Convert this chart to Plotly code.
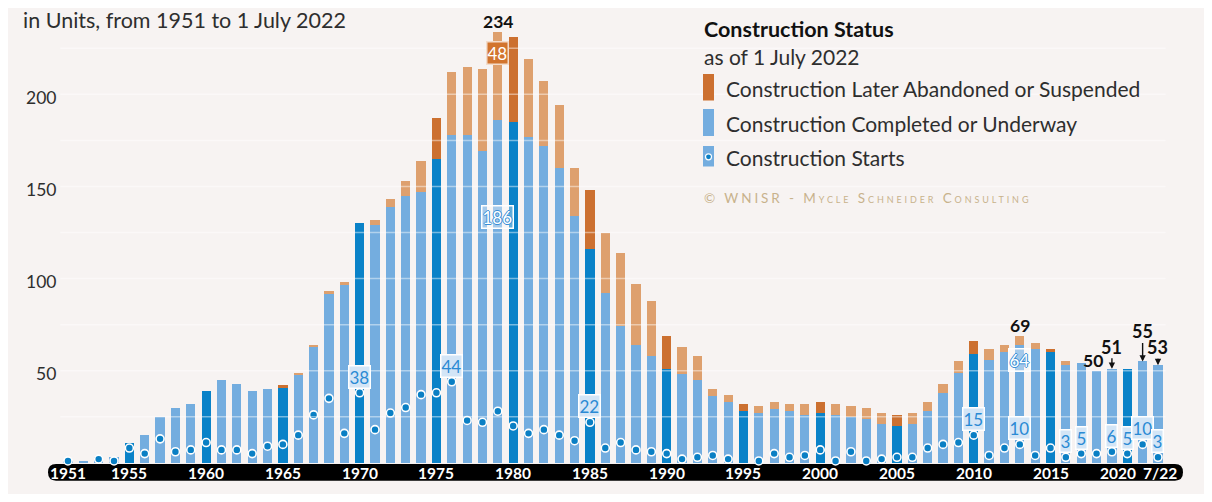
import plotly.graph_objects as go

# construction per year, as of 1 July 2022 (units)
years = list(range(1951, 2023))
completed = [1, 1, 3, 3, 11, 15, 25, 30, 32, 39,
             45, 43, 39, 40, 41, 48, 63, 92, 97, 130,
             129, 139, 145, 147, 165, 178, 178, 169, 186, 185,
             177, 172, 160, 134, 116, 92, 74, 64, 58, 51,
             48, 45, 36, 33, 28, 27, 29, 28, 26, 27,
             26, 25, 24, 21, 20, 21, 28, 38, 49, 59,
             56, 60, 64, 62, 60, 53, 54, 50, 51, 51,
             55, 53]
abandoned = [0, 0, 0, 0, 0, 0, 0, 0, 0, 0,
             0, 0, 0, 0, 1, 1, 1, 1, 1, 0,
             3, 4, 8, 17, 22, 34, 37, 45, 48, 46,
             42, 35, 34, 26, 32, 33, 40, 33, 30, 18,
             15, 13, 4, 4, 4, 4, 4, 4, 6, 6,
             6, 6, 6, 6, 6, 6, 5, 5, 6, 7,
             6, 4, 5, 3, 2, 2, 0, 0, 0, 0,
             0, 0]
starts = [1, None, 2, 1, 8, 5, 13, 6, 7, 11,
          7, 7, 5, 9, 10, 15, 26, 35, 16, 38,
          18, 27, 30, 37, 38, 44, 23, 22, 28, 20,
          16, 18, 15, 12, 22, 8, 11, 7, 6, 5,
          2, 3, 4, 2, None, 1, 5, 3, 4, 7,
          1, 6, 1, 2, 3, 3, 8, 10, 11, 15,
          4, 8, 10, 4, 8, 3, 5, 5, 6, 5,
          10, 3]

tick_years = [1951, 1955, 1960, 1965, 1970, 1975, 1980, 1985, 1990, 1995,
              2000, 2005, 2010, 2015, 2020, 2022]
tick_text = ["1951", "1955", "1960", "1965", "1970", "1975", "1980", "1985", "1990", "1995",
             "2000", "2005", "2010", "2015", "2020", "7/22"]
y_ticks = [50, 100, 150, 200]
pill_years = [1970, 1976, 1985, 2010, 2013, 2016, 2017, 2019, 2020, 2021, 2022]

LIGHT_BLUE = "#74addf"
DARK_BLUE = "#0a82c8"
LIGHT_ORANGE = "#dea06e"
DARK_ORANGE = "#cc7030"
DOT = "#0a7fc4"
BG = "#f7f3f2"
TXT = "#2e2e2e"
FONT = "Lato"

# page body has an 8px margin, so the figure sits at (8, 8) in the window
OFF = 8
W, H = 1196, 486
ML, MR, MT, MB = 40, 21, 2, 2
X0, X1 = 1949.70, 2023.63
Y0, Y1 = -15.85, 245.8


def px(x):  # window pixel -> paper x
    return (x - OFF - ML) / (W - ML - MR)


def py(y):  # window pixel -> paper y
    return (H - MB - (y - OFF)) / (H - MT - MB)


blue_cols = [DARK_BLUE if y % 5 == 0 else LIGHT_BLUE for y in years]
orange_cols = [DARK_ORANGE if y % 5 == 0 else LIGHT_ORANGE for y in years]

fig = go.Figure()
fig.add_trace(go.Bar(x=years, y=completed, marker=dict(color=blue_cols, line_width=0),
                     width=0.6, name="Construction Completed or Underway"))
fig.add_trace(go.Bar(x=years, y=abandoned, marker=dict(color=orange_cols, line_width=0),
                     width=0.6, name="Construction Later Abandoned or Suspended"))
fig.add_trace(go.Scatter(x=years, y=starts, mode="markers", name="Construction Starts",
                         marker=dict(size=8, color=DOT, line=dict(color="white", width=1.6)),
                         cliponaxis=False))

shapes = []
# black rounded axis band
rx, ry = 8 / 15.35, 8 / 1.842
bx0, bx1 = X0, X1
by0, by1 = -9.7, -0.65
path = (f"M {bx0+rx},{by1} L {bx1-rx},{by1} Q {bx1},{by1} {bx1},{(by0+by1)/2} "
        f"Q {bx1},{by0} {bx1-rx},{by0} L {bx0+rx},{by0} Q {bx0},{by0} {bx0},{(by0+by1)/2} "
        f"Q {bx0},{by1} {bx0+rx},{by1} Z")
shapes.append(dict(type="path", path=path, xref="x", yref="y", fillcolor="black",
                   line_width=0, layer="below"))
# gridlines over the bars
for g in range(25, 226, 25):
    shapes.append(dict(type="line", xref="x", yref="y", x0=1950.5, x1=2022.5, y0=g, y1=g,
                       line=dict(color="rgba(255,255,255,0.45)", width=1.5), layer="above"))
# legend swatches
shapes.append(dict(type="rect", xref="paper", yref="paper", x0=px(703), x1=px(714),
                   y0=py(100.5), y1=py(74), fillcolor=DARK_ORANGE, line_width=0, layer="above"))
shapes.append(dict(type="rect", xref="paper", yref="paper", x0=px(703), x1=px(714),
                   y0=py(136), y1=py(109), fillcolor=LIGHT_BLUE, line_width=0, layer="above"))
shapes.append(dict(type="rect", xref="paper", yref="paper", x0=px(703), x1=px(714),
                   y0=py(166.5), y1=py(146), fillcolor=LIGHT_BLUE, line_width=0, layer="above"))
shapes.append(dict(type="circle", xref="paper", yref="paper", x0=px(705.5), x1=px(711.5),
                   y0=py(159.8), y1=py(153.8), fillcolor=DOT,
                   line=dict(color="white", width=1.2), layer="above"))

ann = []
# title
ann.append(dict(text="in Units, from 1951 to 1 July 2022", xref="paper", yref="paper",
                x=px(21), y=py(20), xanchor="left", yanchor="middle", showarrow=False,
                font=dict(family=FONT, size=21.5, color=TXT)))
# y tick labels
for v in y_ticks:
    ann.append(dict(text=str(v), xref="paper", yref="y", x=px(58), y=v, xanchor="right",
                    yanchor="middle", yshift=-3, showarrow=False,
                    font=dict(family=FONT, size=17.5, color=TXT)))
# x tick labels on the band
tick_shift = {"2020": -9, "7/22": 2}
for yr, t in zip(tick_years, tick_text):
    ann.append(dict(text=f"<b>{t}</b>", xref="x", yref="y", x=yr, y=-5.4, xanchor="center",
                    yanchor="middle", showarrow=False, xshift=tick_shift.get(t, 0),
                    font=dict(family=FONT, size=15.5, color="white")))
# legend text
ann.append(dict(text="<b>Construction Status</b>", xref="paper", yref="paper", x=px(702),
                y=py(29), xanchor="left", yanchor="middle", showarrow=False,
                font=dict(family=FONT, size=21.5, color="#111")))
ann.append(dict(text="as of 1 July 2022", xref="paper", yref="paper", x=px(702),
                y=py(56), xanchor="left", yanchor="middle", showarrow=False,
                font=dict(family=FONT, size=21, color=TXT)))
for label, yy in [("Construction Later Abandoned or Suspended", 89),
                  ("Construction Completed or Underway", 123),
                  ("Construction Starts", 157)]:
    ann.append(dict(text=label, xref="paper", yref="paper", x=px(724), y=py(yy),
                    xanchor="left", yanchor="middle", showarrow=False,
                    font=dict(family=FONT, size=21, color=TXT)))
ann.append(dict(text="<span style='letter-spacing:2.9px'>© WNISR - Mycle Schneider Consulting</span>",
                xref="paper", yref="paper",
                x=px(702), y=py(198), xanchor="left", yanchor="middle", showarrow=False,
                font=dict(family=FONT, size=13.5, color="#c8b28c", variant="small-caps")))

# start-count pills
start_of = dict(zip(years, starts))
for yr in pill_years:
    v = start_of[yr]
    ann.append(dict(text=str(v), x=yr, y=v, xanchor="center", yanchor="middle", yshift=16,
                    showarrow=False, bgcolor="#d3e5f6", bordercolor="white", borderwidth=1.5,
                    borderpad=0, font=dict(family=FONT, size=17, color="#2a8ad4")))
# inner pills
outline = "-1px 0 #3a8fd6, 1px 0 #3a8fd6, 0 -1px #3a8fd6, 0 1px #3a8fd6"
ann.append(dict(text="186", x=1979, y=133.3, showarrow=False, bgcolor="rgba(255,255,255,0.35)",
                bordercolor="white", borderwidth=1.5, borderpad=0,
                font=dict(family=FONT, size=17, color="white", shadow=outline)))
ann.append(dict(text="64", x=2013, y=55.8, showarrow=False, bgcolor="rgba(255,255,255,0.35)",
                bordercolor="white", borderwidth=1.5, borderpad=0,
                font=dict(family=FONT, size=17, color="white", shadow=outline)))
ann.append(dict(text="48", x=1979, y=222.6, showarrow=False, bgcolor="#d2742e",
                bordercolor="#f3dccb", borderwidth=1.5, borderpad=0,
                font=dict(family=FONT, size=17, color="white")))
# totals
total_of = {y: c + a for y, c, a in zip(years, completed, abandoned)}
for yr in [1979, 2013, 2018]:
    ann.append(dict(text=f"<b>{total_of[yr]}</b>", x=yr, y=total_of[yr], xanchor="center",
                    yanchor="bottom", yshift=-1, showarrow=False, borderpad=0,
                    xshift=-4 if yr == 2018 else 0,
                    font=dict(family=FONT, size=17.5, color="#111")))
for yr, off in [(2019, -22), (2021, -30), (2022, -18)]:
    ann.append(dict(text=f"<b>{total_of[yr]}</b>", x=yr, y=total_of[yr], ax=0, ay=off,
                    showarrow=True, arrowhead=2, arrowsize=0.9, arrowwidth=1.4,
                    arrowcolor="#111", standoff=0, borderpad=0,
                    font=dict(family=FONT, size=18, color="#111")))

fig.update_layout(
    width=W, height=H,
    margin=dict(l=ML, r=MR, t=MT, b=MB),
    paper_bgcolor=BG, plot_bgcolor=BG,
    barmode="stack", bargap=0.4,
    showlegend=False,
    xaxis=dict(range=[X0, X1], visible=False),
    yaxis=dict(range=[Y0, Y1], visible=False),
    shapes=shapes,
    annotations=ann,
    font=dict(family=FONT),
)

fig.write_html("out.html")
